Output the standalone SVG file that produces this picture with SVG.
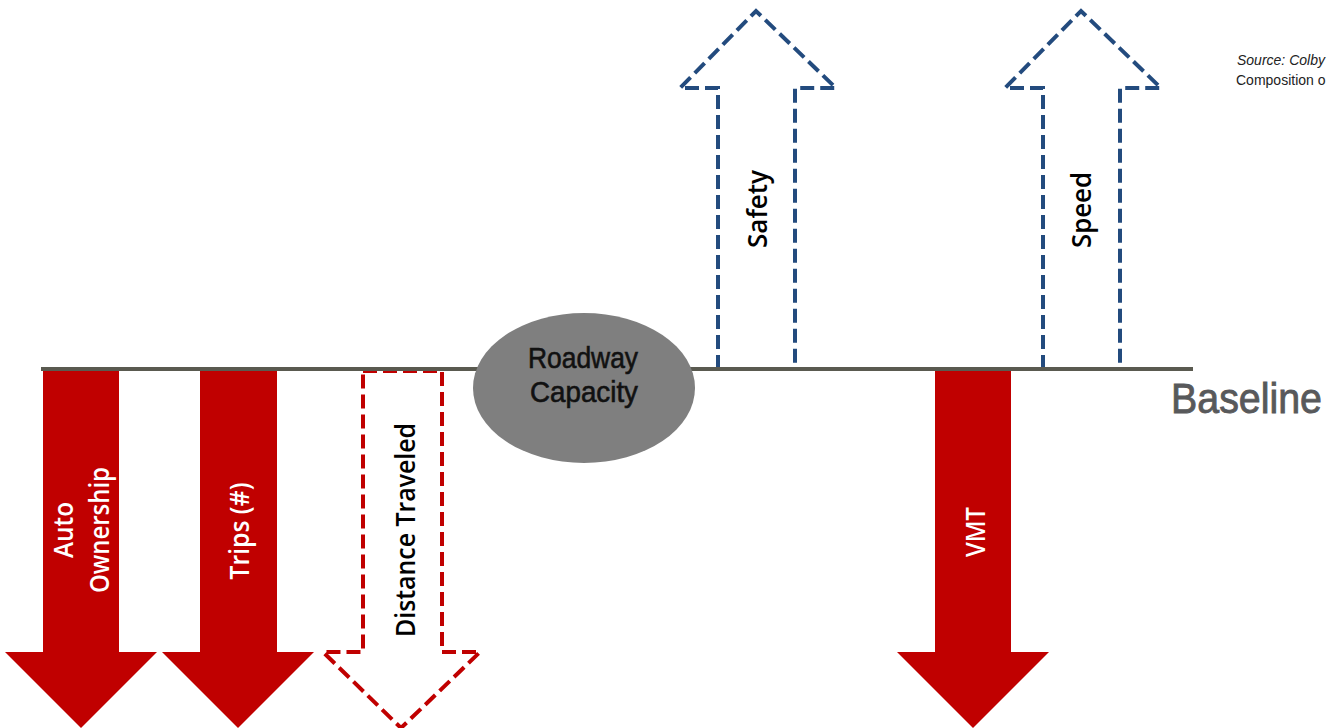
<svg xmlns="http://www.w3.org/2000/svg" width="1330" height="728" viewBox="0 0 1330 728">
<style>
.solid{fill:#C00000;stroke:none}
.dashR{fill:#fff;stroke:#C00000;stroke-width:4;stroke-dasharray:14 6}
.dashB{fill:#fff;stroke:#234B7E;stroke-width:4;stroke-dasharray:14 6}
.lblW{font-family:"Open Sans","Liberation Sans",sans-serif;font-size:27px;font-weight:600;fill:#fff;text-anchor:middle}
.lblK{font-family:"Open Sans","Liberation Sans",sans-serif;font-size:27px;font-weight:600;fill:#000;text-anchor:middle}
.cap{font-family:"Liberation Sans",Arial,sans-serif;font-size:29px;fill:#111;stroke:#111;stroke-width:0.6;text-anchor:middle}
.src{font-family:"Liberation Sans",Arial,sans-serif;font-size:14px;fill:#222}
</style>
<rect width="1330" height="728" fill="#fff"/>
<g id="distance-traveled">
<polygon class="dashR" points="363,371 442,371 442,652 480,652 401,728 323,652 363,652"/>
<text class="lblK" transform="translate(415,530) rotate(-90)" textLength="214" lengthAdjust="spacingAndGlyphs">Distance Traveled</text>
</g>
<g id="safety">
<polygon class="dashB" points="718,369 718,88 680,88 756,11 836,88 795,88 795,369"/>
<text class="lblK" transform="translate(767,209) rotate(-90)" textLength="78" lengthAdjust="spacingAndGlyphs">Safety</text>
</g>
<g id="speed">
<polygon class="dashB" points="1043,369 1043,88 1005,88 1081,11 1161,88 1120,88 1120,369"/>
<text class="lblK" transform="translate(1091,210) rotate(-90)" textLength="76" lengthAdjust="spacingAndGlyphs">Speed</text>
</g>
<g id="connectors">
<line x1="41" y1="369" x2="1193" y2="369" stroke="#5A5A50" stroke-width="4"/>
</g>
<g id="auto-ownership">
<polygon class="solid" points="43,371 119,371 119,652 157,652 81,728 5,652 43,652"/>
<text class="lblW" transform="translate(73,530) rotate(-90)" textLength="56" lengthAdjust="spacingAndGlyphs">Auto</text>
<text class="lblW" transform="translate(109,530) rotate(-90)" textLength="126" lengthAdjust="spacingAndGlyphs">Ownership</text>
</g>
<g id="trips">
<polygon class="solid" points="200,371 277,371 277,652 314,652 238,728 162,652 200,652"/>
<text class="lblW" transform="translate(249,531) rotate(-90)" textLength="97" lengthAdjust="spacingAndGlyphs">Trips (#)</text>
</g>
<g id="vmt">
<polygon class="solid" points="935,371 1011,371 1011,652 1049,652 973,728 897,652 935,652"/>
<text class="lblW" transform="translate(985,532) rotate(-90)" textLength="50" lengthAdjust="spacingAndGlyphs">VMT</text>
</g>
<g id="roadway-capacity">
<ellipse cx="584" cy="388" rx="111" ry="75" fill="#7F7F7F"/>
<text class="cap" x="583" y="368" textLength="110" lengthAdjust="spacingAndGlyphs">Roadway</text>
<text class="cap" x="584" y="402" textLength="108" lengthAdjust="spacingAndGlyphs">Capacity</text>
</g>
<g id="baseline-label">
<text x="1171" y="413" font-family="'Liberation Sans',Arial,sans-serif" font-size="43" fill="#58595B" stroke="#58595B" stroke-width="0.9" textLength="151" lengthAdjust="spacingAndGlyphs">Baseline</text>
</g>
<g id="source">
<text class="src" x="1237" y="65" font-style="italic">Source: Colby</text>
<text class="src" x="1236" y="85">Composition o</text>
</g>
</svg>
